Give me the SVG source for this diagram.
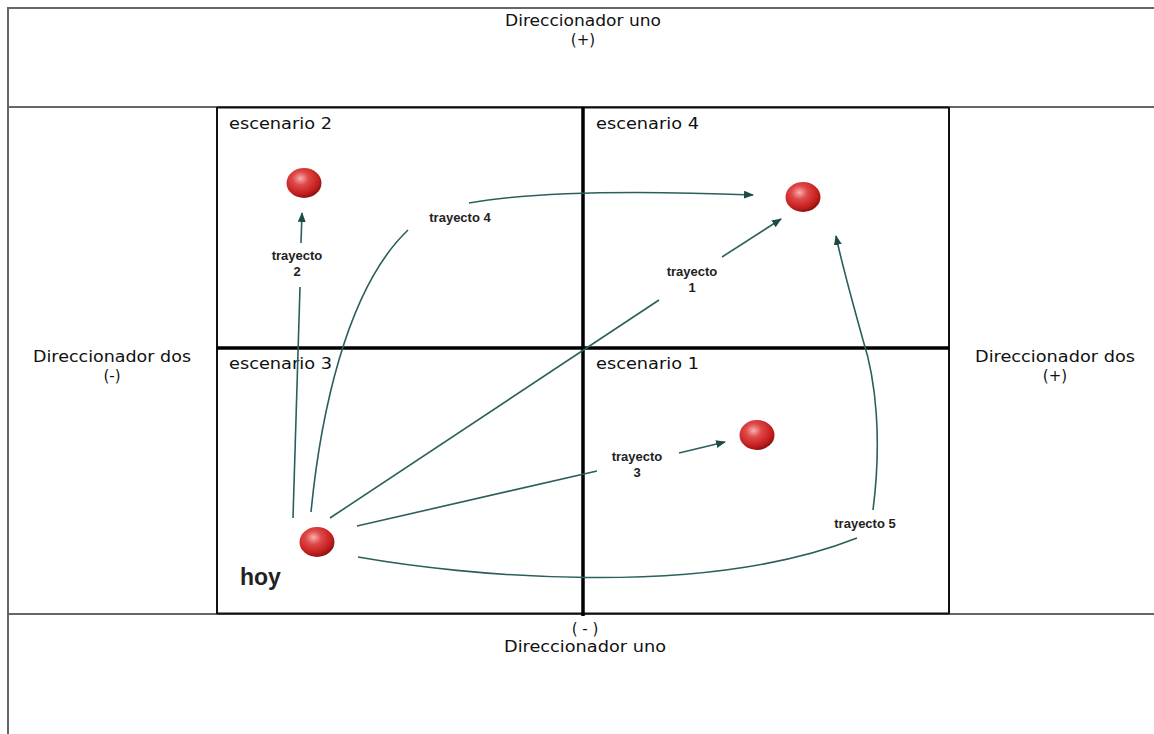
<svg xmlns="http://www.w3.org/2000/svg" width="1154" height="734" viewBox="0 0 1154 734">
<defs>
<style>
.frame{stroke:#666;stroke-width:2;fill:none}
.grid{stroke:#111;stroke-width:2;fill:none}
.axis{stroke:#000;stroke-width:3.5;fill:none}
.path{stroke:#2b5f5c;stroke-width:1.6;fill:none}
.lbl{font-family:"DejaVu Sans","Liberation Sans",sans-serif;font-size:15px;fill:#111}
.tr{font-family:"Liberation Sans",Arial,sans-serif;font-size:13px;font-weight:bold;fill:#222;text-anchor:middle}
.hoy{font-family:"Liberation Sans",Arial,sans-serif;font-size:23px;font-weight:bold;fill:#222}
</style>
<radialGradient id="ball" cx="0.4" cy="0.35" r="0.65">
<stop offset="0" stop-color="#f7b0b0"/>
<stop offset="0.35" stop-color="#e04848"/>
<stop offset="0.8" stop-color="#c41e1e"/>
<stop offset="1" stop-color="#8e1414"/>
</radialGradient>
<marker id="arr" markerWidth="10" markerHeight="8" refX="9" refY="4" orient="auto" markerUnits="userSpaceOnUse">
<path d="M0,0 L10,4 L0,8 Z" fill="#1e4a48"/>
</marker>
</defs>
<rect width="1154" height="734" fill="#fff"/>
<g id="frame">
<path class="frame" d="M8,734 L8,8 L1154,8" stroke-width="2.5" stroke="#888"/>
<line class="frame" x1="8" y1="107" x2="1154" y2="107"/>
<line class="frame" x1="8" y1="614" x2="1154" y2="614"/>
<line class="grid" x1="217" y1="107" x2="217" y2="614"/>
<line class="grid" x1="949" y1="107" x2="949" y2="614"/>
<line class="grid" x1="217" y1="107.5" x2="949" y2="107.5"/>
<line class="grid" x1="217" y1="613.5" x2="949" y2="613.5"/>
<line class="axis" x1="583" y1="107" x2="583" y2="616"/>
<line class="axis" x1="217" y1="348" x2="949" y2="348"/>
</g>
<g id="axis-labels">
<text class="lbl" x="583" y="26" text-anchor="middle" textLength="156" lengthAdjust="spacingAndGlyphs">Direccionador uno</text>
<text class="lbl" x="583" y="45" text-anchor="middle">(+)</text>
<text class="lbl" x="585" y="634" text-anchor="middle">( - )</text>
<text class="lbl" x="585" y="652" text-anchor="middle" textLength="162" lengthAdjust="spacingAndGlyphs">Direccionador uno</text>
<text class="lbl" x="112" y="362" text-anchor="middle" textLength="158" lengthAdjust="spacingAndGlyphs">Direccionador dos</text>
<text class="lbl" x="112" y="381" text-anchor="middle">(-)</text>
<text class="lbl" x="1055" y="362" text-anchor="middle" textLength="160" lengthAdjust="spacingAndGlyphs">Direccionador dos</text>
<text class="lbl" x="1055" y="381" text-anchor="middle">(+)</text>
</g>
<g id="escenario-2">
<text class="lbl" x="229" y="129" textLength="103" lengthAdjust="spacingAndGlyphs">escenario 2</text>
<ellipse cx="304" cy="183" rx="17.5" ry="15" fill="url(#ball)"/>
</g>
<g id="escenario-4">
<text class="lbl" x="596" y="129" textLength="103" lengthAdjust="spacingAndGlyphs">escenario 4</text>
<ellipse cx="803" cy="197" rx="17.5" ry="15" fill="url(#ball)"/>
</g>
<g id="escenario-3">
<text class="lbl" x="229" y="369" textLength="103" lengthAdjust="spacingAndGlyphs">escenario 3</text>
</g>
<g id="escenario-1">
<text class="lbl" x="596" y="369" textLength="103" lengthAdjust="spacingAndGlyphs">escenario 1</text>
<ellipse cx="757" cy="435" rx="17.5" ry="15" fill="url(#ball)"/>
</g>
<g id="hoy">
<ellipse cx="317" cy="542" rx="17.5" ry="15" fill="url(#ball)"/>
<text class="hoy" x="240" y="585">hoy</text>
</g>
<g id="connectors">
<path class="path" d="M293,518 L300,287"/>
<path class="path" d="M301,243 L302,213" marker-end="url(#arr)"/>
<path class="path" d="M311,512 C320,420 345,290 408,230"/>
<path class="path" d="M469,203 C520,194 600,189 753,195" marker-end="url(#arr)"/>
<path class="path" d="M330,518 L659,300"/>
<path class="path" d="M722,257 L781,219" marker-end="url(#arr)"/>
<path class="path" d="M357,526 L597,471"/>
<path class="path" d="M679,453 L725,442" marker-end="url(#arr)"/>
<path class="path" d="M358,557 C460,575 700,600 857,538"/>
<path class="path" d="M873,510 C882,440 876,380 863,340 C852,300 842,265 836,236" marker-end="url(#arr)"/>
</g>
<g id="labels">
<text class="tr" x="297" y="260">trayecto</text>
<text class="tr" x="297" y="276">2</text>
<text class="tr" x="460" y="222">trayecto 4</text>
<text class="tr" x="692" y="276">trayecto</text>
<text class="tr" x="692" y="292">1</text>
<text class="tr" x="637" y="461">trayecto</text>
<text class="tr" x="637" y="477">3</text>
<text class="tr" x="865" y="528">trayecto 5</text>
</g>
</svg>
